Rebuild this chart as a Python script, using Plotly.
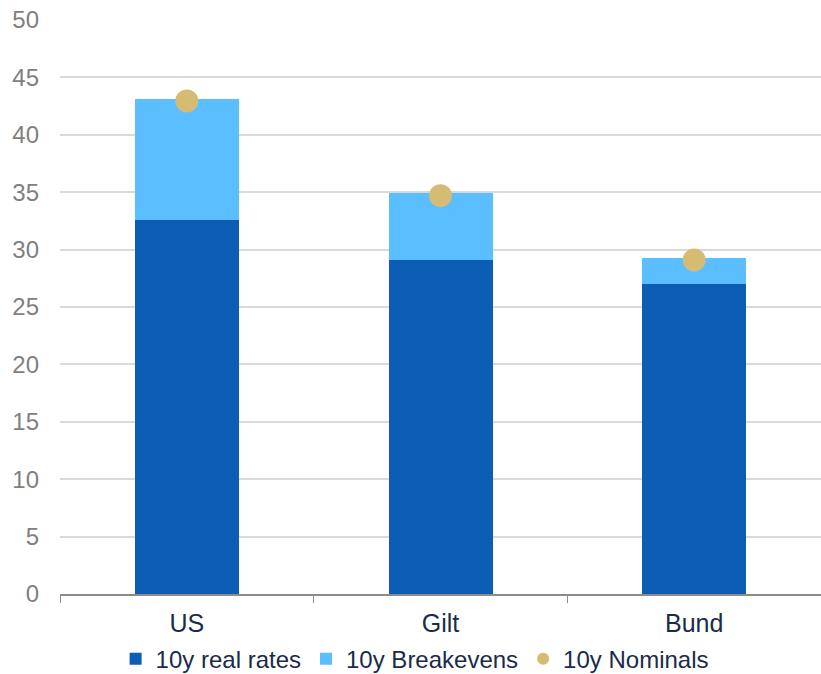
import plotly.graph_objects as go

categories = ["US", "Gilt", "Bund"]
real_rates = [32.6, 29.1, 27.0]
breakevens = [10.5, 5.8, 2.25]
nominals = [42.95, 34.7, 29.1]
y_ticks = [0, 5, 10, 15, 20, 25, 30, 35, 40, 45, 50]

fig = go.Figure()
fig.add_trace(go.Bar(x=categories, y=real_rates, name="10y real rates",
                     marker=dict(color="#0B5EB3", line=dict(width=0))))
fig.add_trace(go.Bar(x=categories, y=breakevens, name="10y Breakevens",
                     marker=dict(color="#5BBEFF", line=dict(width=0))))
fig.add_trace(go.Scatter(x=categories, y=nominals, name="10y Nominals", mode="markers",
                         marker=dict(color="#D6BC73", size=23, line=dict(width=0))))

fig.update_layout(
    barmode="stack",
    bargap=0.59,
    width=821, height=674,
    margin=dict(l=60, r=0, t=20, b=80, autoexpand=False),
    plot_bgcolor="white", paper_bgcolor="white",
    font=dict(family="Liberation Sans, Arial, sans-serif", size=24, color="#1B2B4B"),
    showlegend=True,
    legend=dict(orientation="h", x=0.505, xref="container", xanchor="center",
                y=0.022, yref="container", yanchor="middle",
                font=dict(size=24, color="#1B2B4B"), itemsizing="constant",
                traceorder="normal", itemwidth=30, tracegroupgap=0),
    xaxis=dict(showline=True, linecolor="#8C8C8C", linewidth=1.5,
               ticks="outside", tickson="boundaries", ticklen=7, tickcolor="#8C8C8C",
               tickfont=dict(size=25, color="#1B2B4B"), showgrid=False,
               ticklabelstandoff=6),
    yaxis=dict(range=[0, 50], tickvals=y_ticks, showgrid=True, gridcolor="#D9D9D9",
               gridwidth=1.5, zeroline=False, showline=False,
               tickfont=dict(size=24, color="#808080"), ticks="", ticklabelstandoff=20),
)

fig.write_html("out.html")
